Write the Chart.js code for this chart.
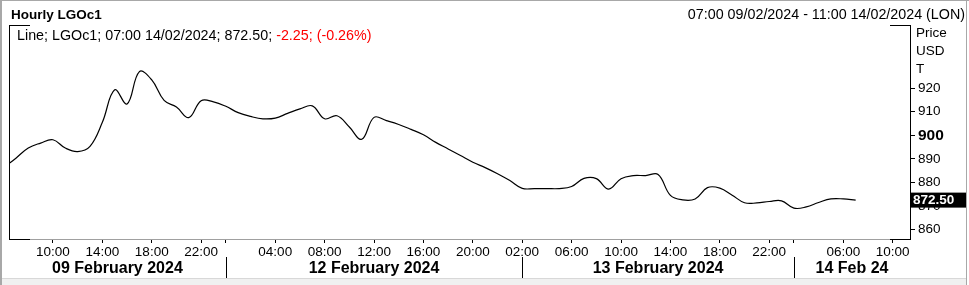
<!DOCTYPE html>
<html lang="en">

<head>
    <meta charset="UTF-8">
    <title>Hourly LGOc1</title>
    <script src="https://cdn.jsdelivr.net/npm/chart.js@4.4.1/dist/chart.umd.min.js"></script>
    <style>
        body {
            margin: 0;
            background: #fff;
        }

        .chart-box {
            width: 969px;
            height: 285px;
            position: relative;
        }
    </style>
</head>

<body>
    <div class="chart-box">
        <canvas id="lgoChart"></canvas>
    </div>

    <script>
        // hourly closes, first one is the 06:00 bar before the window (slot -1)
        const firstSlot = -1;
        const prices = [
            886.2, 890.3, 894.6, 896.7, 898.1, 894.6, 893.1, 895.3, 905.5, 919.3,
            913.3, 927.0, 923.5, 914.8, 912.0, 907.5, 914.7, 914.2, 912.3, 909.6,
            908.0, 907.0, 907.3, 909.3, 911.2, 912.5, 907.0, 908.3, 903.5, 898.3,
            907.6, 906.2, 904.6, 902.5, 900.2, 897.0, 894.2, 891.4, 888.6, 886.3,
            883.7, 880.8, 877.5, 877.4, 877.4, 877.4, 878.3, 881.7, 881.6, 877.2,
            881.6, 882.9, 882.9, 883.4, 874.5, 872.6, 873.0, 877.8, 877.6, 874.6,
            871.4, 871.3, 871.9, 872.2, 869.1, 869.6, 871.5, 873.0, 873.0, 872.5
        ];

        // x axis ticks (slot numbers, weekend and night gaps removed)
        const tickSlots = [3, 7, 11, 15, 17, 21, 25, 29, 33, 37, 41, 45, 49, 53, 57, 61, 63, 67, 71];
        const tickLabels = ['10:00', '14:00', '18:00', '22:00', '', '04:00', '08:00', '12:00', '16:00', '20:00',
            '02:00', '06:00', '10:00', '14:00', '18:00', '22:00', '', '06:00', '10:00'];
        const daySlots = [17, 41, 63];
        const dayLabels = ['09 February 2024', '12 February 2024', '13 February 2024', '14 Feb 24'];

        const yTicks = [860, 870, 880, 890, 900, 910, 920];

        const lastPrice = prices[prices.length - 1];
        const FONT = "'Liberation Sans', Arial, sans-serif";

        const points = prices.map((p, i) => ({ x: i + firstSlot, y: p }));

        // extra drawing: frame, header, day row, price box
        const decorPlugin = {
            id: 'decor',
            afterDraw(chart) {
                const ctx = chart.ctx;
                const area = chart.chartArea;
                const xs = chart.scales.x;
                const ys = chart.scales.y;
                ctx.save();

                // outer border
                ctx.fillStyle = '#a8a8a8';
                ctx.fillRect(0, 0, 2, 285);
                ctx.fillRect(0, 0, 969, 1);
                ctx.fillRect(966, 0, 1, 285);
                ctx.fillStyle = '#f0f0f0';
                ctx.fillRect(2, 278, 964, 7);
                ctx.fillStyle = '#d8d8d8';
                ctx.fillRect(2, 278, 964, 1);

                // plot frame: black left side and corners
                ctx.strokeStyle = '#000';
                ctx.lineWidth = 1;
                ctx.beginPath();
                ctx.moveTo(area.left + 0.5, area.top);
                ctx.lineTo(area.left + 0.5, area.bottom + 1);
                ctx.moveTo(area.left, area.top + 0.5);
                ctx.lineTo(area.left + 21, area.top + 0.5);
                ctx.moveTo(area.right - 20, area.top + 0.5);
                ctx.lineTo(area.right, area.top + 0.5);
                ctx.moveTo(area.left, area.bottom + 0.5);
                ctx.lineTo(area.left + 21, area.bottom + 0.5);
                ctx.moveTo(area.right - 20, area.bottom + 0.5);
                ctx.lineTo(area.right, area.bottom + 0.5);
                ctx.stroke();

                // header
                ctx.fillStyle = '#000';
                ctx.textBaseline = 'alphabetic';
                ctx.textAlign = 'left';
                ctx.font = 'bold 13.5px ' + FONT;
                ctx.fillText('Hourly LGOc1', 11, 19);
                ctx.font = '14.3px ' + FONT;
                ctx.textAlign = 'right';
                ctx.fillText('07:00 09/02/2024 - 11:00 14/02/2024 (LON)', 965, 19);

                // series info line
                ctx.textAlign = 'left';
                const info1 = 'Line; LGOc1; 07:00 14/02/2024; 872.50; ';
                ctx.fillText(info1, 17, 40);
                ctx.fillStyle = '#ff0000';
                ctx.fillText('-2.25; (-0.26%)', 17 + ctx.measureText(info1).width, 40);

                // unit labels above the price ticks
                ctx.fillStyle = '#000';
                ctx.font = '13.5px ' + FONT;
                ctx.textBaseline = 'middle';
                ctx.fillText('Price', 916, 33);
                ctx.fillText('USD', 916, 51.5);
                ctx.fillText('T', 916, 69.5);

                // day separators and labels
                const bounds = [area.left, ...daySlots.map(s => xs.getPixelForValue(s)), area.right];
                ctx.beginPath();
                daySlots.forEach(s => {
                    const px = Math.round(xs.getPixelForValue(s)) + 0.5;
                    ctx.moveTo(px, 257);
                    ctx.lineTo(px, 278);
                });
                ctx.stroke();
                ctx.font = 'bold 16px ' + FONT;
                ctx.textAlign = 'center';
                dayLabels.forEach((label, i) => {
                    ctx.fillText(label, (bounds[i] + bounds[i + 1]) / 2, 268.5);
                });

                // last price box
                const py = ys.getPixelForValue(lastPrice);
                ctx.fillStyle = '#000';
                ctx.fillRect(area.right + 1, py - 7.5, 55, 15);
                ctx.fillStyle = '#fff';
                ctx.font = 'bold 13.5px ' + FONT;
                ctx.textAlign = 'left';
                ctx.fillText(lastPrice.toFixed(2), area.right + 3, py + 0.5);

                ctx.restore();
            }
        };

        new Chart(document.getElementById('lgoChart'), {
            type: 'line',
            data: {
                datasets: [{
                    label: 'LGOc1',
                    data: points,
                    borderColor: '#000',
                    borderWidth: 1.2,
                    pointRadius: 0,
                    tension: 0.4,
                    fill: false
                }]
            },
            options: {
                responsive: true,
                maintainAspectRatio: false,
                animation: false,
                layout: { padding: { left: 9, top: 25, right: 0, bottom: 0 } },
                plugins: {
                    legend: { display: false },
                    tooltip: { enabled: false }
                },
                scales: {
                    x: {
                        type: 'linear',
                        min: -0.56,
                        max: 72.4,
                        afterFit: s => { s.height = 46; },
                        afterBuildTicks: s => { s.ticks = tickSlots.map(v => ({ value: v })); },
                        border: { display: true, color: '#a0a0a0' },
                        grid: { drawOnChartArea: false, drawTicks: true, tickLength: 4, color: '#000' },
                        ticks: {
                            autoSkip: false,
                            maxRotation: 0,
                            padding: 1,
                            color: '#000',
                            font: { family: FONT, size: 13.5 },
                            callback: (v) => tickLabels[tickSlots.indexOf(v)]
                        }
                    },
                    y: {
                        position: 'right',
                        min: 856,
                        max: 946.8,
                        afterFit: s => { s.width = 59; },
                        afterBuildTicks: s => { s.ticks = yTicks.map(v => ({ value: v })); },
                        border: { display: true, color: '#000' },
                        grid: { drawOnChartArea: false, drawTicks: true, tickLength: 5, color: '#000' },
                        ticks: {
                            padding: 3,
                            color: '#000',
                            font: ctx => ctx.tick && ctx.tick.value === 900
                                ? { family: FONT, size: 15.5, weight: 'bold' }
                                : { family: FONT, size: 13.5 },
                            callback: v => String(v)
                        }
                    }
                }
            },
            plugins: [decorPlugin]
        });
    </script>
</body>

</html>
